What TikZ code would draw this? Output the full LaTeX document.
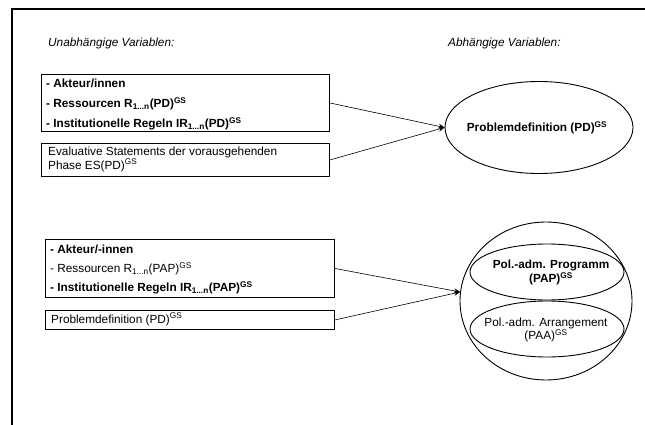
\documentclass[tikz,border=0pt]{standalone}
\usepackage{fontspec}
\setmainfont{Liberation Sans}
\usetikzlibrary{shapes.geometric,arrows.meta}
\newcommand{\fsz}{\fontsize{11.8}{12.5}\selectfont}
\tikzset{
  box/.style={draw, line width=0.9pt, rectangle, inner sep=0pt, anchor=north west},
  txt/.style={anchor=west, inner sep=0pt, font=\fsz},
  btxt/.style={anchor=west, inner sep=0pt, font=\fsz\bfseries},
  head/.style={anchor=west, inner sep=0pt, font=\fsz\itshape},
  oval/.style={draw, ellipse, line width=0.9pt, inner sep=0pt},
  conn/.style={line width=0.6pt, -{Stealth[length=6pt,width=5pt]}},
}
\begin{document}
\begin{tikzpicture}[x=1pt,y=-1pt]
\useasboundingbox (0,0) rectangle (645,425);
% frame (partially visible)
\draw[line width=2pt] (11.5,425) -- (11.5,9) -- (645,9);
% headings
\node[head] (hu) at (48,43) {Unabhängige Variablen:};
\node[head] (ha) at (448,43) {Abhängige Variablen:};
% upper boxes
\node[box, minimum width=288pt, minimum height=57pt] (b1) at (41,74) {};
\node[btxt] (t11) at (46,83) {- Akteur/innen};
\node[btxt] (t12) at (46,104) {- Ressourcen R\textsubscript{1...n}(PD)\textsuperscript{GS}};
\node[btxt] (t13) at (46,124) {- Institutionelle Regeln IR\textsubscript{1...n}(PD)\textsuperscript{GS}};
\node[box, minimum width=288pt, minimum height=33pt] (b2) at (41,143) {};
\node[txt, align=left] (t21) at (48,159.5) {Evaluative Statements der vorausgehenden\\Phase ES(PD)\textsuperscript{GS}};
% upper ellipse
\node[oval, minimum width=188pt, minimum height=92pt] (e1) at (539,127.5) {};
\node[font=\fsz\bfseries, inner sep=0pt] (te1) at (537,128) {Problemdefinition (PD)\textsuperscript{GS}};
% lower boxes
\node[box, minimum width=289pt, minimum height=58pt] (b3) at (45,239) {};
\node[btxt] (t31) at (50,249) {- Akteur/-innen};
\node[txt] (t32) at (50,269) {- Ressourcen R\textsubscript{1...n}(PAP)\textsuperscript{GS}};
\node[btxt] (t33) at (50,288) {- Institutionelle Regeln IR\textsubscript{1...n}(PAP)\textsuperscript{GS}};
\node[box, minimum width=289pt, minimum height=19pt] (b4) at (45,310) {};
\node[txt] (t41) at (51,319.5) {Problemdefinition (PD)\textsuperscript{GS}};
% lower circle with two inner ellipses
\node[oval, minimum width=172pt, minimum height=158pt] (c) at (546,301) {};
\node[oval, minimum width=154pt, minimum height=56pt] (i1) at (547,272) {};
\node[oval, minimum width=154pt, minimum height=56pt] (i2) at (547,329) {};
\node[font=\fsz\bfseries, inner sep=0pt, align=center] (ti1) at (551,272.5) {Pol.-adm. Programm\\(PAP)\textsuperscript{GS}};
\node[font=\fsz, inner sep=0pt, align=center] (ti2) at (546,330) {Pol.-adm. Arrangement\\(PAA)\textsuperscript{GS}};
% connectors
\coordinate (p1) at (e1.west);
\coordinate (p2) at (c.174);
\draw[conn] (b1.east) -- (p1);
\draw[conn] (b2.east) -- (p1);
\draw[conn] (b3.east) -- (p2);
\draw[conn] (b4.east) -- (p2);
\end{tikzpicture}
\end{document}
